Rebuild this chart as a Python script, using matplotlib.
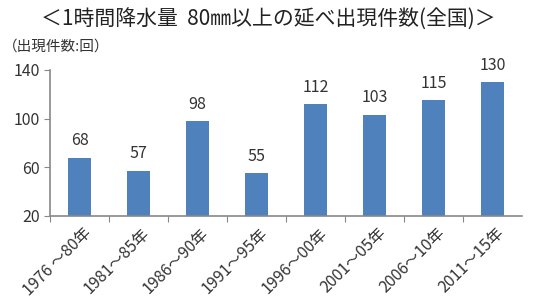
import matplotlib.pyplot as plt

plt.rcParams['font.family'] = ['Noto Sans CJK JP', 'DejaVu Sans']

periods = ['1976 ～80年', '1981～85年', '1986～90年', '1991～95年',
           '1996～00年', '2001～05年', '2006～10年', '2011～15年']
counts = [68, 57, 98, 55, 112, 103, 115, 130]
yticks = [20, 60, 100, 140]

fig = plt.figure(figsize=(5.37, 3.03), dpi=100)
ax = fig.add_axes([50 / 537, 1 - 216 / 303, 472 / 537, 146 / 303])

x = range(len(counts))
bars = ax.bar(x, counts, width=0.4, color='#4f81bd', bottom=0)
ax.set_ylim(20, 140)
ax.set_xlim(-0.5, len(counts) - 0.5)
ax.set_yticks(yticks)
ax.set_xticks([i - 0.5 for i in x])
ax.set_xticklabels([])
ax.tick_params(axis='x', length=4, color='#888888')
ax.tick_params(axis='y', length=4, color='#888888', labelsize=11.5, labelcolor='#333333')

for i, lab in enumerate(periods):
    ax.text(i + 0.05, 13, lab, rotation=45, ha='right', va='top',
            fontsize=11.5, color='#333333', rotation_mode='anchor',
            transform=ax.transData, clip_on=False)

for i, v in enumerate(counts):
    ax.text(i, v + 7, str(v), ha='center', va='bottom', fontsize=11.5, color='#333333')

for s in ['top', 'right']:
    ax.spines[s].set_visible(False)
for s in ['left', 'bottom']:
    ax.spines[s].set_color('#888888')
    ax.spines[s].set_linewidth(1.2)

fig.text(0.5, 1 - 20 / 303, '＜1時間降水量  80㎜以上の延べ出現件数(全国)＞',
         ha='center', va='center', fontsize=15, color='#222222')
fig.text(3 / 537, 1 - 47 / 303, '（出現件数:回）', ha='left', va='center',
         fontsize=10.5, color='#333333')

fig.savefig('out.png', dpi=100)
